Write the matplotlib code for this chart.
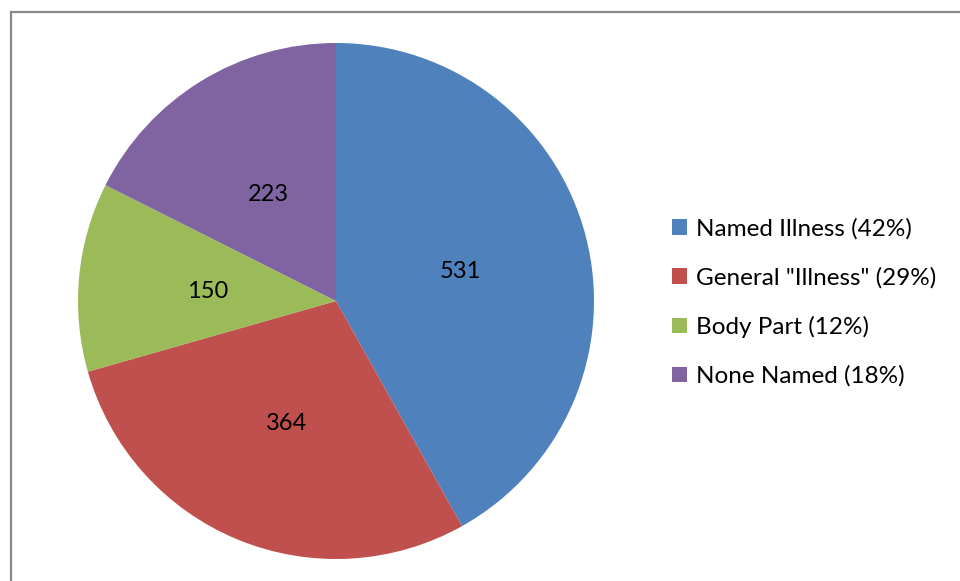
import matplotlib
matplotlib.use("Agg")
import matplotlib.pyplot as plt
from matplotlib.patches import Rectangle

categories = ["Named Illness", "General \"Illness\"", "Body Part", "None Named"]
values = [531, 364, 150, 223]
percents = [42, 29, 12, 18]
colors = ["#4F81BD", "#C0504D", "#9BBB59", "#8064A2"]

plt.rcParams['font.family'] = ['Lato', 'DejaVu Sans']

W, H = 960, 581
fig = plt.figure(figsize=(W/100, H/100), dpi=100)
ax = fig.add_axes([0, 0, 1, 1])

# frame
ax.add_patch(Rectangle((11, -20), W + 20, H - 12 + 20, fill=False,
                       edgecolor="#888888", linewidth=1.6))

vals_iter = iter(values)
wedges, texts, autotexts = ax.pie(
    values, colors=colors, startangle=90, counterclock=False,
    center=(336, H - 301), radius=258, frame=True,
    autopct=lambda p: f"{next(vals_iter)}", pctdistance=0.5,
    textprops=dict(fontsize=17, color="black"))
for t in autotexts:
    x, y = t.get_position()
    t.set_position((x, y - 3))
ax.set_xlim(0, W)
ax.set_ylim(0, H)
ax.axis('off')

labels = [f"{c} ({p}%)" for c, p in zip(categories, percents)]
leg = ax.legend(wedges, labels, loc="upper left",
                bbox_to_anchor=(672 / W, 1 - 218 / H),
                frameon=False, fontsize=17.5, handlelength=0.62,
                handleheight=0.62, handletextpad=0.35, labelspacing=1.13,
                borderaxespad=0, borderpad=0)

fig.savefig("out.png", dpi=100)
